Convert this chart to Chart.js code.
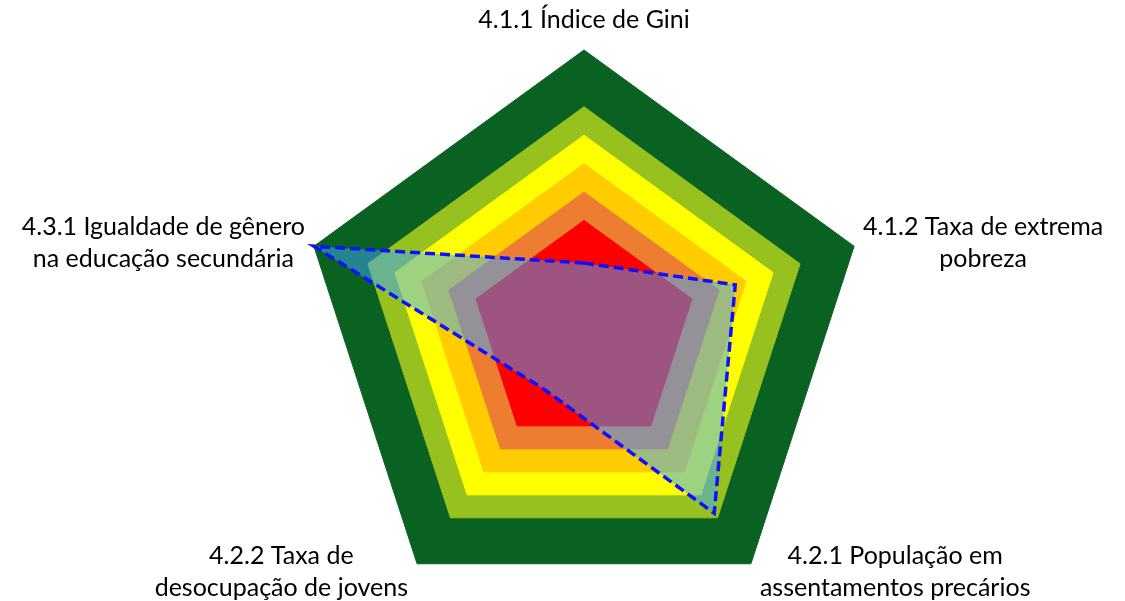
<!DOCTYPE html>
<html>
<head>
<meta charset="utf-8">
<script src="https://cdn.jsdelivr.net/npm/chart.js@4/dist/chart.umd.min.js"></script>
<style>
  html, body { margin: 0; padding: 0; background: #fff; overflow: hidden; }
  #wrap { width: 1125px; height: 618px; position: relative; }
</style>
</head>
<body>
<div id="wrap"><canvas id="chart"></canvas></div>
<script>
var categories = [
  ["4.1.1 Índice de Gini"],
  ["4.1.2 Taxa de extrema", "pobreza"],
  ["4.2.1 População em", "assentamentos precários"],
  ["4.2.2 Taxa de", "desocupação de jovens"],
  ["4.3.1 Igualdade de gênero", "na educação secundária"]
];

// reference bands (same value on every axis)
var band100 = [100, 100, 100, 100, 100];
var band80 = [80, 80, 80, 80, 80];
var band70 = [70, 70, 70, 70, 70];
var band60 = [60, 60, 60, 60, 60];
var band50 = [50, 50, 50, 50, 50];
var band40 = [40, 40, 40, 40, 40];

// indicator series (blue dashed)
var indicador = [25, 56, 78, 24, 100];

function band(values, color) {
  return {
    data: values,
    fill: true,
    backgroundColor: color,
    borderColor: color,
    borderWidth: 1,
    pointRadius: 0
  };
}

var labelPlugin = {
  id: 'cornerLabels',
  afterDraw: function (chart) {
    var scale = chart.scales.r;
    var ctx = chart.ctx;
    var lineHeight = 32;
    var gap = 9;
    ctx.save();
    ctx.font = '25px Lato';
    ctx.fillStyle = '#000';
    ctx.textAlign = 'center';
    ctx.textBaseline = 'middle';
    categories.forEach(function (lines, i) {
      var p = scale.getPointPosition(i, scale.drawingArea);
      var dx = Math.cos(p.angle), dy = Math.sin(p.angle);
      var w = Math.max.apply(null, lines.map(function (l) { return ctx.measureText(l).width; }));
      var h = lines.length * lineHeight;
      var cx = p.x, cy;
      if (dx > 0.1) cx = p.x + gap + w / 2;
      else if (dx < -0.1) cx = p.x - gap - w / 2;
      if (dy < -0.9) cy = p.y - 14 - h / 2;
      else cy = p.y + dy * 10;
      lines.forEach(function (l, k) {
        ctx.fillText(l, cx, cy - h / 2 + lineHeight * (k + 0.5));
      });
    });
    ctx.restore();
  }
};

new Chart('chart', {
  type: 'radar',
  data: {
    labels: categories,
    datasets: [
      {
        data: indicador,
        fill: true,
        backgroundColor: 'rgba(60,168,255,0.5)',
        borderColor: '#1010ff',
        borderWidth: 3.5,
        borderDash: [10, 5],
        pointRadius: 0,
        tension: 0
      },
      band(band40, '#FF0000'),
      band(band50, '#ED7D31'),
      band(band60, '#FFCC00'),
      band(band70, '#FFFF00'),
      band(band80, '#96C11F'),
      band(band100, '#0A6222')
    ]
  },
  options: {
    responsive: true,
    maintainAspectRatio: false,
    animation: false,
    events: [],
    layout: {
      padding: { top: 50, bottom: 0, left: 300, right: 257 }
    },
    plugins: {
      legend: { display: false },
      tooltip: { enabled: false }
    },
    scales: {
      r: {
        min: 0,
        max: 100,
        ticks: { display: false },
        grid: { display: false },
        angleLines: { display: false },
        pointLabels: { display: false }
      }
    }
  },
  plugins: [labelPlugin]
});
</script>
</body>
</html>
